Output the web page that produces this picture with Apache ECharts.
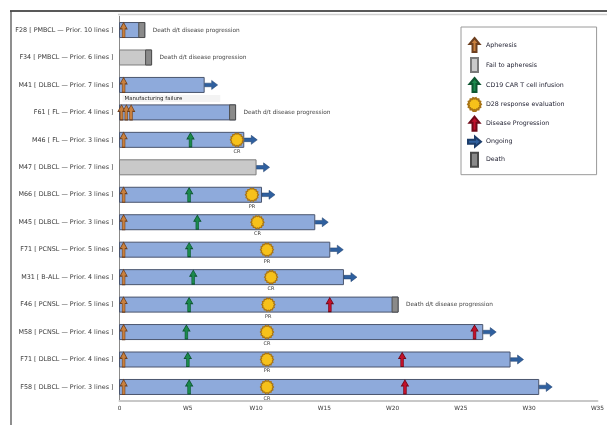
<!DOCTYPE html>
<html>
<head>
<meta charset="utf-8">
<script src="https://cdn.jsdelivr.net/npm/echarts@6/dist/echarts.min.js"></script>
<style>
  html, body { margin: 0; padding: 0; background: #fff; }
  #chart { width: 607px; height: 425px; }
</style>
</head>
<body>
<div id="chart"></div>
<script>
// Patients, top to bottom
const patients = [
  'F28 [ PMBCL — Prior. 10 lines ]',
  'F34 [ PMBCL — Prior. 6 lines ]',
  'M41 [ DLBCL — Prior. 7 lines ]',
  'F61 [ FL — Prior. 4 lines ]',
  'M46 [ FL — Prior. 3 lines ]',
  'M47 [ DLBCL — Prior. 7 lines ]',
  'M66 [ DLBCL — Prior. 3 lines ]',
  'M45 [ DLBCL — Prior. 3 lines ]',
  'F71 [ PCNSL — Prior. 5 lines ]',
  'M31 [ B-ALL — Prior. 4 lines ]',
  'F46 [ PCNSL — Prior. 5 lines ]',
  'M58 [ PCNSL — Prior. 4 lines ]',
  'F71 [ DLBCL — Prior. 4 lines ]',
  'F58 [ DLBCL — Prior. 3 lines ]'
];

// Follow-up length in weeks per patient
const followUp = [1.85, 2.35, 6.2, 8.5, 9.1, 10.0, 10.4, 14.3, 15.4, 16.4, 20.4, 26.6, 28.6, 30.7];
// Patients that never reached apheresis (grey bars)
const failedApheresis = [1, 5];

// Events: [week, patient index]
const apheresis = [
  [0.3, 0], [0.3, 2], [0.15, 3], [0.5, 3], [0.85, 3], [0.3, 4], [0.3, 6], [0.3, 7],
  [0.3, 8], [0.3, 9], [0.3, 10], [0.3, 11], [0.3, 12], [0.3, 13]
];
const infusion = [
  [5.2, 4], [5.1, 6], [5.7, 7], [5.1, 8], [5.4, 9], [5.1, 10], [4.9, 11], [5.0, 12], [5.1, 13]
];
const responseEval = [
  [8.6, 4, 'CR'], [9.7, 6, 'PR'], [10.1, 7, 'CR'], [10.8, 8, 'PR'], [11.1, 9, 'CR'],
  [10.9, 10, 'PR'], [10.8, 11, 'CR'], [10.8, 12, 'PR'], [10.8, 13, 'CR']
];
const progression = [[15.4, 10], [26.0, 11], [20.7, 12], [20.9, 13]];
const ongoingRows = [2, 4, 5, 6, 7, 8, 9, 11, 12, 13];
const deathRows = [0, 1, 3, 10];
const deathNote = 'Death d/t disease progression';
const notes = [[0, 2, 'Manufacturing failure']];

const xTicks = ['0', 'W5', 'W10', 'W15', 'W20', 'W25', 'W30', 'W35'];

const FONT = 'DejaVu Sans, Verdana, sans-serif';

// Marker shapes
const upArrow = 'path://M5,0 L10,6 L7,6 L7,14 L3,14 L3,6 L0,6 Z';
const rightArrow = 'path://M0,3 L7,3 L7,0 L13,5 L7,10 L7,7 L0,7 Z';
const bar = 'path://M0,0 L7,0 L7,14 L0,14 Z';
const sun = (function () {
  const pts = [];
  const n = 14;
  for (let i = 0; i < n * 2; i++) {
    const r = i % 2 === 0 ? 10 : 8.6;
    const a = Math.PI * i / n;
    pts.push((10 + r * Math.cos(a)).toFixed(2) + ',' + (10 + r * Math.sin(a)).toFixed(2));
  }
  return 'path://M' + pts.join(' L') + ' Z';
})();

const BAR_H = 15;
const barData = followUp.map((w, i) => [i, w, failedApheresis.includes(i) ? 1 : 0]);
const ongoingData = ongoingRows.map(i => [followUp[i], i]);
const deathData = deathRows.map(i => [i, followUp[i]]);

const chart = echarts.init(document.getElementById('chart'));
chart.setOption({
  animation: false,
  backgroundColor: '#fff',
  textStyle: { fontFamily: FONT },
  grid: { left: 119.5, right: 6, top: 16.3, bottom: 24.3 },
  xAxis: {
    type: 'value', min: 0, max: 35, interval: 5,
    axisLine: { show: true, lineStyle: { color: '#c8c8c8', width: 2 } },
    axisTick: { show: false },
    splitLine: { show: false },
    axisLabel: {
      fontSize: 5.8, color: '#333', margin: 5, fontFamily: FONT,
      formatter: v => xTicks[Math.round(v / 5)]
    }
  },
  yAxis: {
    type: 'category', data: patients, inverse: true,
    axisLine: { show: true, lineStyle: { color: '#8a8a8a', width: 1 } },
    axisTick: { show: false },
    axisLabel: { fontSize: 6.4, color: '#3a3a3a', margin: 6, fontFamily: FONT }
  },
  legend: {
    orient: 'vertical', left: 461, top: 27,
    itemWidth: 13, itemHeight: 14, itemGap: 4,
    borderColor: '#9a9a9a', borderWidth: 1,
    padding: [10, 32, 7, 6],
    textStyle: { fontSize: 6.3, color: '#223', fontFamily: FONT },
    selectedMode: false,
    data: [
      { name: 'Apheresis', icon: upArrow },
      { name: 'Fail to apheresis', icon: bar },
      { name: 'CD19 CAR T cell infusion', icon: upArrow },
      { name: 'D28 response evaluation', icon: sun },
      { name: 'Disease Progression', icon: upArrow },
      { name: 'Ongoing', icon: rightArrow },
      { name: 'Death', icon: bar }
    ]
  },
  graphic: [
    { type: 'line', shape: { x1: 10, y1: 11, x2: 607, y2: 11 }, style: { stroke: '#222', lineWidth: 1.3 }, silent: true },
    { type: 'line', shape: { x1: 11, y1: 11, x2: 11, y2: 425 }, style: { stroke: '#444', lineWidth: 1.2 }, silent: true },
    { type: 'line', shape: { x1: 118, y1: 14.5, x2: 607, y2: 14.5 }, style: { stroke: '#d0d0d0', lineWidth: 1.5 }, silent: true }
  ],
  series: [
    {
      // Follow-up bars (blue) and fail-to-apheresis bars (grey)
      name: 'Fail to apheresis',
      type: 'custom',
      itemStyle: { color: '#c9c9c9', borderColor: '#7a7a7a', borderWidth: 1 },
      encode: { x: 1, y: 0 },
      data: barData,
      renderItem: function (params, api) {
        const row = api.value(0);
        const p0 = api.coord([0, row]);
        const p1 = api.coord([api.value(1), row]);
        const grey = api.value(2) === 1;
        return {
          type: 'rect',
          shape: { x: p0[0], y: p0[1] - BAR_H / 2, width: p1[0] - p0[0], height: BAR_H },
          style: grey
            ? { fill: '#c9c9c9', stroke: '#7d7d7d', lineWidth: 1 }
            : { fill: '#8eaadb', stroke: '#4a556e', lineWidth: 1 }
        };
      },
      z: 2
    },
    {
      name: 'Death',
      type: 'custom',
      itemStyle: { color: '#8a8a8a', borderColor: '#4a4a4a', borderWidth: 1 },
      encode: { x: 1, y: 0 },
      data: deathData,
      renderItem: function (params, api) {
        const row = api.value(0);
        const p = api.coord([api.value(1), row]);
        return {
          type: 'group',
          children: [
            {
              type: 'rect',
              shape: { x: p[0] - 6, y: p[1] - BAR_H / 2, width: 6, height: BAR_H },
              style: { fill: '#8a8a8a', stroke: '#4e4e4e', lineWidth: 1 }
            },
            {
              type: 'text',
              style: {
                x: p[0] + 8, y: p[1], text: deathNote,
                fontSize: 5.8, fill: '#444', verticalAlign: 'middle', fontFamily: FONT
              }
            }
          ]
        };
      },
      z: 3
    },
    {
      name: 'notes',
      type: 'custom',
      encode: { x: 0, y: 1 },
      data: notes,
      renderItem: function (params, api) {
        const p = api.coord([api.value(0), api.value(1)]);
        return {
          type: 'text',
          style: {
            x: p[0] + 3, y: p[1] + 13.5, text: notes[params.dataIndex][2],
            fontSize: 5.4, fill: '#222', verticalAlign: 'middle',
            backgroundColor: '#f3f3f3', padding: [1, 38, 1, 2], fontFamily: FONT
          }
        };
      },
      z: 3
    },
    {
      name: 'Ongoing',
      type: 'scatter',
      symbol: rightArrow, symbolSize: [13, 9], symbolKeepAspect: false,
      symbolOffset: [7, 0],
      itemStyle: { color: '#2f609f', borderColor: '#1d3d6a', borderWidth: 0.5, opacity: 1 },
      data: ongoingData,
      z: 4
    },
    {
      name: 'Apheresis',
      type: 'scatter',
      symbol: upArrow, symbolSize: [7, 15],
      itemStyle: { color: '#c9803e', borderColor: '#6e4020', borderWidth: 0.8, opacity: 1 },
      data: apheresis,
      z: 5
    },
    {
      name: 'CD19 CAR T cell infusion',
      type: 'scatter',
      symbol: upArrow, symbolSize: [7, 14],
      itemStyle: { color: '#1b8a4c', borderColor: '#0d5630', borderWidth: 0.8, opacity: 1 },
      data: infusion,
      z: 5
    },
    {
      name: 'D28 response evaluation',
      type: 'scatter',
      symbol: sun, symbolSize: 13,
      itemStyle: { color: '#f6c11a', borderColor: '#a87416', borderWidth: 1.3, opacity: 1 },
      label: {
        show: true, position: 'bottom', distance: 2,
        fontSize: 5, color: '#333', fontFamily: FONT,
        formatter: p => p.data[2]
      },
      data: responseEval,
      z: 5
    },
    {
      name: 'Disease Progression',
      type: 'scatter',
      symbol: upArrow, symbolSize: [7, 14],
      itemStyle: { color: '#c2102a', borderColor: '#700a18', borderWidth: 0.8, opacity: 1 },
      data: progression,
      z: 5
    }
  ]
});
</script>
</body>
</html>
